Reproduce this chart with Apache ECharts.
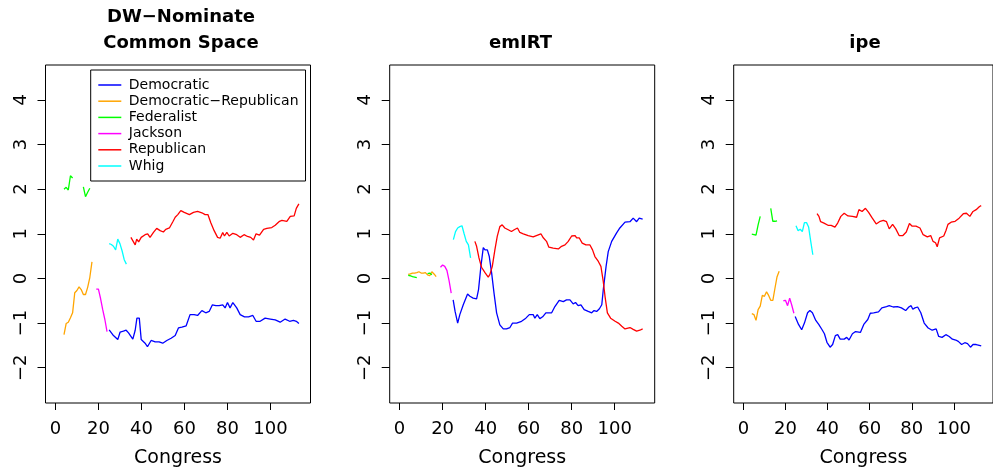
<!DOCTYPE html>
<html>
<head>
<meta charset="utf-8">
<script src="https://cdn.jsdelivr.net/npm/echarts@6/dist/echarts.min.js"></script>
<style>
html,body{margin:0;padding:0;background:#fff;}
#chart{width:993px;height:473px;}
</style>
</head>
<body>
<div id="chart"></div>
<script>
// ---------- tick labels / categories ----------
const congressTicks = [0, 20, 40, 60, 80, 100];
const scoreTicks = [-2, -1, 0, 1, 2, 3, 4];
const panelTitles = [["DW\u2212Nominate", "Common Space"], ["emIRT"], ["ipe"]];
const partyNames = ["Democratic", "Democratic\u2212Republican", "Federalist", "Jackson", "Republican", "Whig"];
const xAxisTitle = "Congress";

// ---------- DW-Nominate Common Space ----------
const dwDemocratic = [[25,-1.15],[27,-1.28],[29,-1.37],[30.1,-1.2],[31.6,-1.18],[32.9,-1.16],[34,-1.22],[36,-1.36],[37.1,-1.16],[37.9,-0.89],[39,-0.89],[39.9,-1.37],[41.7,-1.45],[42.8,-1.53],[44.5,-1.39],[46.4,-1.42],[48.2,-1.42],[49.9,-1.45],[51.8,-1.39],[53.8,-1.34],[55.7,-1.28],[57.2,-1.11],[58.8,-1.09],[60.8,-1.06],[62.6,-0.81],[64.5,-0.81],[66.1,-0.83],[68.1,-0.72],[69.9,-0.77],[71.5,-0.74],[73,-0.59],[74.6,-0.61],[76.1,-0.61],[77.8,-0.59],[78.9,-0.66],[80,-0.54],[81.2,-0.66],[82.5,-0.54],[84.3,-0.66],[85.9,-0.81],[87.9,-0.86],[89.8,-0.86],[91.8,-0.83],[93.3,-0.96],[95.2,-0.96],[97.5,-0.89],[99.9,-0.91],[102.2,-0.93],[104.5,-0.98],[106.8,-0.91],[108.9,-0.96],[110.7,-0.94],[112,-0.96],[113.2,-1.01]];
const dwDemRep = [[4,-1.26],[5,-1.01],[6,-0.98],[7,-0.88],[8,-0.77],[9,-0.32],[10,-0.27],[11,-0.19],[12,-0.25],[13,-0.36],[14,-0.36],[15,-0.2],[16,0.02],[17,0.37]];
const dwFederalistA = [[4,2.0],[5,2.04],[6,1.98],[7,2.3],[8,2.25]];
const dwFederalistB = [[13,2.05],[14,1.83],[15,1.93],[16,2.02]];
const dwJackson = [[19,-0.24],[20,-0.24],[21,-0.45],[22,-0.7],[23,-0.92],[24,-1.19]];
const dwRepublican = [[35.1,0.92],[37.1,0.75],[37.8,0.88],[38.7,0.82],[39.9,0.92],[41.7,0.98],[42.9,1.0],[44,0.92],[45.6,1.03],[47.1,1.12],[48.7,1.07],[50.2,1.04],[51.3,1.1],[53,1.13],[54.6,1.27],[55.7,1.37],[56.9,1.43],[58.3,1.52],[59.9,1.48],[62.3,1.43],[64.2,1.48],[66.1,1.5],[68.1,1.47],[69.6,1.43],[70.9,1.43],[72.3,1.24],[73.8,1.07],[75.4,0.92],[76.6,0.9],[77.8,1.03],[78.6,0.95],[79.7,1.03],[80.8,0.95],[82.5,1.01],[84.3,0.98],[85.9,0.92],[87.7,0.98],[89.3,0.94],[90.8,0.92],[92.1,0.86],[93.3,1.0],[94.9,0.97],[96.8,1.1],[98.3,1.12],[100.6,1.14],[102.2,1.19],[104.2,1.28],[105.3,1.3],[107.6,1.28],[109.2,1.39],[111,1.4],[112,1.57],[113.2,1.67]];
const dwWhig = [[25,0.78],[26,0.76],[27,0.72],[28,0.64],[29,0.88],[30,0.78],[31,0.62],[32,0.42],[33,0.32]];

// ---------- emIRT ----------
const emDemocratic = [[24.9,-0.48],[25.8,-0.74],[27,-1.0],[28,-0.81],[29.6,-0.59],[31.6,-0.35],[32.7,-0.4],[34.2,-0.44],[35.8,-0.46],[36.7,-0.25],[37.8,0.27],[38.9,0.69],[39.7,0.64],[40.8,0.64],[41.7,0.49],[42.8,0.12],[43.9,-0.33],[45.1,-0.77],[46.6,-1.04],[48.2,-1.13],[49.7,-1.13],[50.5,-1.16],[51.3,-1.1],[52.5,-1.0],[54.4,-1.0],[56.7,-0.96],[58.7,-0.89],[60.3,-0.81],[62.1,-0.81],[62.9,-0.89],[64,-0.81],[65.2,-0.9],[66.5,-0.86],[68,-0.77],[70.7,-0.77],[72.2,-0.63],[74.2,-0.49],[76.1,-0.52],[77.6,-0.48],[79.2,-0.48],[80.7,-0.57],[81.8,-0.54],[83,-0.61],[84.3,-0.59],[85.8,-0.7],[87.7,-0.74],[89.3,-0.77],[90.4,-0.72],[91.6,-0.74],[92.9,-0.68],[94,-0.59],[94.7,-0.25],[96,0.27],[97,0.6],[98.6,0.83],[100.9,1.02],[102.4,1.13],[104.8,1.26],[107.1,1.27],[108.6,1.35],[110.2,1.27],[111.4,1.35],[113,1.33]];
const emDemRep = [[4,0.09],[5,0.1],[6,0.12],[7,0.12],[8,0.13],[9,0.15],[10,0.12],[11,0.12],[12,0.13],[13,0.08],[14,0.06],[15,0.15],[16,0.1],[17,0.04]];
const emFederalistA = [[4,0.07],[5,0.06],[6,0.04],[7,0.03],[8,0.02]];
const emFederalistB = [[13,0.11],[14,0.12],[15,0.08]];
const emJackson = [[19,0.25],[20,0.3],[21,0.27],[22,0.18],[23,-0.05],[24,-0.33]];
const emRepublican = [[35,0.83],[35.8,0.72],[36.9,0.46],[38.1,0.25],[39.7,0.13],[41.2,0.03],[42,0.09],[43.1,0.27],[44.3,0.64],[45.4,0.94],[46.6,1.16],[47.7,1.2],[48.9,1.13],[50.5,1.09],[52,1.05],[53.3,1.09],[54.8,1.13],[55.9,1.03],[57.5,1.0],[59.8,0.96],[62.1,0.93],[63.6,0.96],[64.4,0.95],[65.7,1.0],[66.8,0.91],[68.3,0.83],[69.4,0.7],[71.4,0.68],[73.8,0.66],[75.3,0.72],[76.9,0.75],[78.4,0.83],[80,0.95],[81.6,0.96],[82.3,0.91],[83.5,0.91],[84.9,0.79],[86.6,0.75],[88.5,0.75],[89.7,0.64],[90.8,0.49],[92.4,0.38],[93.6,0.27],[94.7,-0.07],[95.5,-0.4],[96.6,-0.77],[98.1,-0.89],[100.2,-0.96],[101.7,-1.0],[103.3,-1.07],[104.8,-1.13],[107.1,-1.1],[108.6,-1.14],[110.2,-1.18],[111.7,-1.16],[113,-1.13]];
const emWhig = [[25,0.87],[26,1.05],[27,1.13],[28,1.16],[29,1.18],[30,1.0],[31,0.83],[32,0.75],[33,0.46]];

// ---------- ipe ----------
const ipeDemocratic = [[24.6,-0.85],[26.2,-1.03],[27.7,-1.15],[29,-1.0],[30.5,-0.77],[31.6,-0.72],[32.8,-0.77],[34.4,-0.94],[35.8,-1.03],[36.7,-1.01],[37.4,-1.15],[38.5,-1.24],[39.7,-1.43],[41.2,-1.54],[42.4,-1.48],[43.7,-1.28],[44.8,-1.26],[46,-1.36],[47.9,-1.36],[49.1,-1.32],[50.2,-1.38],[51.8,-1.24],[53.3,-1.19],[55.6,-1.21],[57.2,-1.03],[59.1,-0.92],[60.3,-0.78],[61.9,-0.77],[64.2,-0.75],[65.8,-0.66],[68,-0.63],[69.3,-0.61],[71.2,-0.64],[73.2,-0.63],[75.1,-0.66],[77.1,-0.72],[78.6,-0.64],[79.7,-0.61],[80.5,-0.69],[81.5,-0.66],[82.8,-0.64],[84.3,-0.77],[85.9,-1.0],[87.8,-1.11],[89.7,-1.16],[91.6,-1.13],[92.8,-1.3],[94.4,-1.32],[96.2,-1.26],[97.8,-1.3],[99.3,-1.36],[100.9,-1.38],[102.1,-1.41],[103.7,-1.48],[105.2,-1.44],[106.5,-1.46],[107.9,-1.54],[109.1,-1.48],[110.6,-1.48],[111.4,-1.5],[113,-1.51]];
const ipeDemRep = [[4,-0.79],[5,-0.81],[6,-0.94],[7,-0.7],[8,-0.62],[9,-0.38],[10,-0.4],[11,-0.3],[12,-0.38],[13,-0.49],[14,-0.49],[15,-0.22],[16,0.04],[17,0.16]];
const ipeFederalistA = [[4,0.99],[5,0.98],[6,0.97],[7,1.2],[8,1.39]];
const ipeFederalistB = [[13,1.57],[14,1.28],[15,1.28],[16,1.29]];
const ipeJackson = [[19,-0.5],[20,-0.49],[21,-0.61],[22,-0.44],[23,-0.6],[24,-0.78]];
const ipeRepublican = [[35,1.45],[35.9,1.39],[36.7,1.27],[37.5,1.3],[38.3,1.24],[40.2,1.19],[41.7,1.19],[43.5,1.15],[44.8,1.24],[46.3,1.39],[47.9,1.46],[49.7,1.4],[51.8,1.39],[53.8,1.37],[54.9,1.54],[56.4,1.5],[58,1.57],[59.5,1.48],[61.1,1.36],[63.1,1.22],[65,1.28],[66.5,1.3],[68,1.27],[69.3,1.11],[70.9,1.21],[72.4,1.11],[74,0.96],[75.8,0.96],[77.4,1.04],[78.9,1.23],[80.2,1.17],[82,1.17],[83.9,1.13],[85.4,0.98],[87.4,0.93],[89,0.96],[90.1,0.83],[91.3,0.8],[92.1,0.71],[93.2,0.91],[95.2,0.95],[96.3,1.08],[97.2,1.21],[98.7,1.26],[100.6,1.28],[102.5,1.35],[104.5,1.45],[106,1.46],[107.6,1.39],[109.1,1.5],[110.6,1.54],[112.2,1.61],[113,1.63]];
const ipeWhig = [[25,1.18],[26,1.07],[27,1.1],[28,1.05],[29,1.25],[30,1.25],[31,1.15],[32,0.83],[33,0.53]];

// ---------- assemble ----------
const panelData = [
  {Democratic: [dwDemocratic], DemRep: [dwDemRep], Federalist: [dwFederalistA, dwFederalistB], Jackson: [dwJackson], Republican: [dwRepublican], Whig: [dwWhig]},
  {Democratic: [emDemocratic], DemRep: [emDemRep], Federalist: [emFederalistA, emFederalistB], Jackson: [emJackson], Republican: [emRepublican], Whig: [emWhig]},
  {Democratic: [ipeDemocratic], DemRep: [ipeDemRep], Federalist: [ipeFederalistA, ipeFederalistB], Jackson: [ipeJackson], Republican: [ipeRepublican], Whig: [ipeWhig]}
];
const partyKeys = ["Democratic", "DemRep", "Federalist", "Jackson", "Republican", "Whig"];
const partyColors = ["#0000FF", "#FFA500", "#00FF00", "#FF00FF", "#FF0000", "#00FFFF"];

const FONT = "DejaVu Sans";
const panelLeft = [45.5, 389.7, 733.7];
const panelTop = 65, panelW = 265, panelH = 338.3;
const minus = v => String(v).replace('-', '\u2212');

const grids = [], xAxes = [], yAxes = [], series = [], graphics = [];
panelLeft.forEach((left, i) => {
  grids.push({left: left, top: panelTop, width: panelW, height: panelH, show: true,
    borderColor: '#000', borderWidth: 1, backgroundColor: 'transparent', containLabel: false});
  xAxes.push({type: 'value', gridIndex: i, min: -4.6, max: 118.6, position: 'bottom',
    splitLine: {show: false}, axisLine: {show: false, onZero: false},
    axisTick: {show: true, inside: false, customValues: congressTicks, length: 7, lineStyle: {color: '#000', width: 1}},
    axisLabel: {customValues: congressTicks, color: '#000', fontFamily: FONT, fontSize: 18, margin: 17},
    name: xAxisTitle, nameLocation: 'middle', nameGap: 46,
    nameTextStyle: {color: '#000', fontFamily: FONT, fontSize: 19}});
  yAxes.push({type: 'value', gridIndex: i, min: -2.79, max: 4.78, position: 'left',
    splitLine: {show: false}, axisLine: {show: false, onZero: false},
    axisTick: {show: true, inside: false, customValues: scoreTicks, length: 8, lineStyle: {color: '#000', width: 1}},
    axisLabel: {customValues: scoreTicks, color: '#000', fontFamily: FONT, fontSize: 18, rotate: 90, margin: 15, formatter: minus}});
  partyKeys.forEach((k, p) => {
    panelData[i][k].forEach(seg => {
      series.push({type: 'line', name: partyNames[p], xAxisIndex: i, yAxisIndex: i, data: seg,
        showSymbol: false, symbol: 'none', color: partyColors[p],
        lineStyle: {width: 1.3, color: partyColors[p]}, animation: false, silent: true});
    });
  });
  const cx = [181, 520.5, 865][i];
  const lines = panelTitles[i];
  const ys = lines.length === 2 ? [17, 43] : [43];
  lines.forEach((t, j) => {
    graphics.push({type: 'text', x: cx, y: ys[j], style: {text: t, fill: '#000',
      font: 'bold 18px "' + FONT + '"', textAlign: 'center', textVerticalAlign: 'middle'}});
  });
});

const chart = echarts.init(document.getElementById('chart'), null, {renderer: 'canvas'});
chart.setOption({
  animation: false,
  backgroundColor: '#fff',
  grid: grids, xAxis: xAxes, yAxis: yAxes, series: series, graphic: graphics,
  legend: {data: partyNames, orient: 'vertical', left: 90.7, top: 70,
    borderColor: '#000', borderWidth: 1, padding: [8, 7, 8, 7.6], itemGap: 2.2,
    itemWidth: 23, itemHeight: 1.5, icon: 'rect', selectedMode: false,
    textStyle: {color: '#000', fontFamily: FONT, fontSize: 14, lineHeight: 14, padding: [0, 0, 0, 2.5]}}
});
</script>
</body>
</html>
